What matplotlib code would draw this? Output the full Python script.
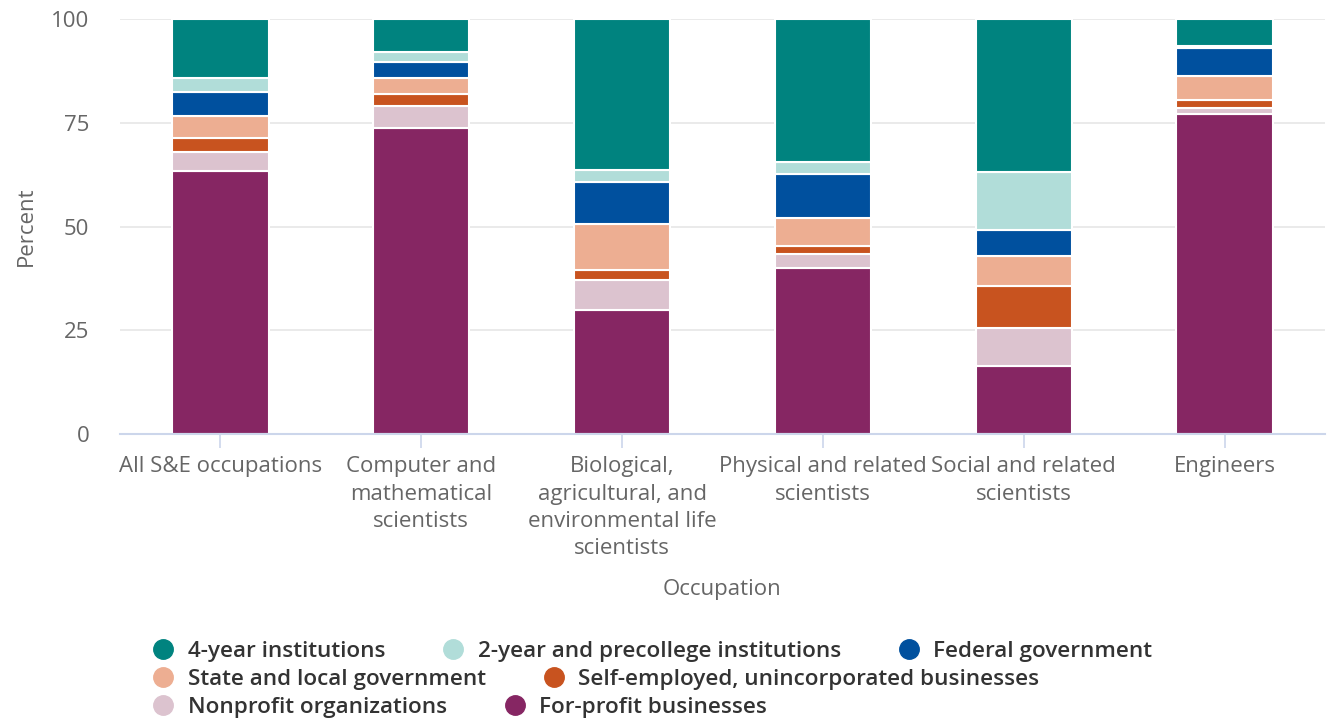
import numpy as np
import matplotlib
matplotlib.use("Agg")
import matplotlib.pyplot as plt
from matplotlib.lines import Line2D

plt.rcParams['font.family'] = ['Open Sans', 'DejaVu Sans']

occupations = ["All S&E occupations", "Computer and\nmathematical\nscientists",
               "Biological,\nagricultural, and\nenvironmental life\nscientists",
               "Physical and related\nscientists", "Social and related\nscientists", "Engineers"]

# stacked from bottom to top
for_profit = [63.4, 73.7, 29.9, 40.0, 16.4, 77.1]
nonprofit = [4.5, 5.3, 7.2, 3.4, 9.1, 1.5]
self_employed = [3.4, 2.9, 2.4, 1.9, 10.2, 1.9]
state_local = [5.3, 3.9, 11.1, 6.7, 7.2, 5.8]
federal = [5.8, 3.8, 10.1, 10.7, 6.3, 6.7]
two_year = [3.4, 2.4, 2.9, 2.8, 13.9, 0.6]
four_year = [14.2, 8.0, 36.4, 34.5, 36.9, 6.4]

series = [
    ("For-profit businesses", for_profit, "#862663"),
    ("Nonprofit organizations", nonprofit, "#dcc3cf"),
    ("Self-employed, unincorporated businesses", self_employed, "#c8531f"),
    ("State and local government", state_local, "#edae92"),
    ("Federal government", federal, "#00509e"),
    ("2-year and precollege institutions", two_year, "#b1ddd9"),
    ("4-year institutions", four_year, "#00837f"),
]

W, H = 1331, 722
fig = plt.figure(figsize=(W / 100, H / 100), dpi=100)
ax = fig.add_axes([120 / W, (H - 434) / H, 1205 / W, 415 / H])

x = np.arange(len(occupations))
bottom = np.zeros(len(occupations))
for name, vals, col in series:
    ax.bar(x, vals, 0.48, bottom=bottom, color=col, edgecolor="white", linewidth=1.5, zorder=3)
    bottom += np.array(vals)

ax.set_xlim(-0.5, len(occupations) - 0.5)
ax.set_ylim(0, 100)
ax.set_yticks([0, 25, 50, 75, 100])
ax.grid(axis="y", color="#e6e6e6", linewidth=1.2, zorder=0)
for s in ["top", "right", "left"]:
    ax.spines[s].set_visible(False)
ax.spines["bottom"].set_color("#ccd6eb")
ax.spines["bottom"].set_linewidth(1.5)
ax.spines["bottom"].set_zorder(4)
ax.tick_params(axis="y", length=0, pad=22, labelsize=16, labelcolor="#666666")
ax.tick_params(axis="x", length=10, width=1.2, color="#ccd6eb", pad=6, labelsize=16, labelcolor="#666666")
ax.set_xticks(x)
ax.set_xticklabels(occupations, linespacing=1.4)
ax.set_xlabel("Occupation", fontsize=16, color="#666666", labelpad=14)
ax.set_ylabel("Percent", fontsize=16, color="#666666", labelpad=10)

# legend rows, flowing like the original
colors = {name: col for name, _, col in series}
rows = [["4-year institutions", "2-year and precollege institutions", "Federal government"],
        ["State and local government", "Self-employed, unincorporated businesses"],
        ["Nonprofit organizations", "For-profit businesses"]]
row_y = [651, 679, 707]
for names, yy in zip(rows, row_y):
    handles = [Line2D([], [], marker="o", linestyle="none", markersize=14,
                      markerfacecolor=colors[n], markeredgecolor=colors[n]) for n in names]
    leg = fig.legend(handles, names, loc="center left", bbox_to_anchor=(152 / W, 1 - yy / H),
                     ncol=len(names), frameon=False, handletextpad=0.6, columnspacing=2.5,
                     handlelength=1.0, borderaxespad=0, borderpad=0,
                     prop={"size": 16.2, "weight": "semibold"})
    for t in leg.get_texts():
        t.set_color("#333333")

fig.savefig("out.png", dpi=100)
